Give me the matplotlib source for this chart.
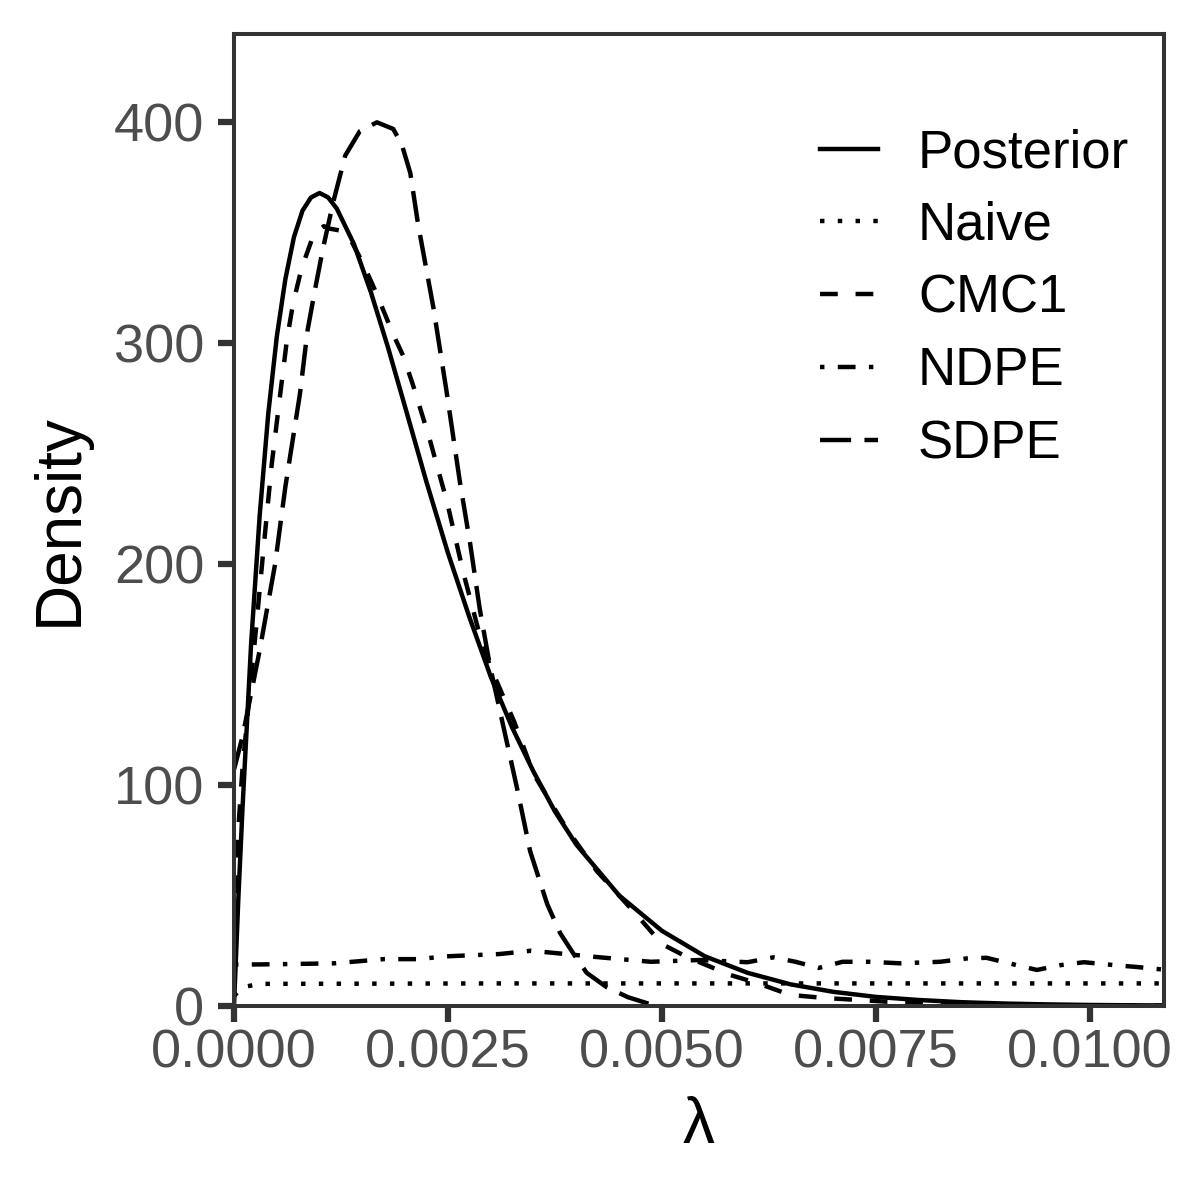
import matplotlib
matplotlib.use("Agg")
import matplotlib.pyplot as plt

plt.rcParams['font.family'] = ['Liberation Sans', 'DejaVu Sans']

# posterior density (solid)
post_x = [0, 0.00005, 0.0001, 0.0002, 0.0003, 0.0004, 0.0005, 0.0006, 0.0007, 0.0008,
          0.0009, 0.001, 0.0011, 0.0012, 0.0014, 0.0016, 0.0018, 0.002, 0.00225, 0.0025,
          0.00275, 0.003, 0.00325, 0.0035, 0.00375, 0.004, 0.0045, 0.005, 0.0055, 0.006,
          0.0065, 0.007, 0.0075, 0.008, 0.0085, 0.009, 0.0095, 0.01, 0.0105, 0.011]
post_y = [0, 48, 90, 164, 222, 268, 303, 329, 348, 360,
          366, 368, 366, 361, 345, 323, 298, 271, 237, 205,
          176, 149, 126, 106, 88, 73, 50, 34, 22.5, 15,
          9.8, 6.4, 4.1, 2.7, 1.7, 1.1, 0.7, 0.45, 0.3, 0.2]

# naive (dotted)
naive_x = [0, 0.0001, 0.0003, 0.003, 0.006, 0.009, 0.0109]
naive_y = [4.5, 8.5, 10, 10.2, 10.2, 10.2, 10.2]

# CMC1 (dashed)
cmc_x = [0, 0.00005, 0.0001, 0.00017, 0.00027, 0.00034, 0.00044, 0.00054, 0.00062, 0.00069,
         0.00079, 0.00091, 0.00098, 0.00105, 0.0011, 0.00124, 0.00136, 0.00151, 0.00167, 0.00186,
         0.00198, 0.0021, 0.00229, 0.00249, 0.00268, 0.00287, 0.00299, 0.00327, 0.0035, 0.00389,
         0.00424, 0.00471, 0.005, 0.0053, 0.0058, 0.0061, 0.0065, 0.0069, 0.0073, 0.0078,
         0.0085, 0.0095, 0.0109]
cmc_y = [35, 80, 108, 136, 176, 205, 245, 277, 302, 318,
         334, 347, 351, 353, 352, 351, 347, 336, 322, 304,
         294, 280, 256, 228, 196, 168, 154, 129, 105, 80,
         61, 41, 28, 22, 14, 10.5, 5, 3.6, 2.7, 1.5,
         0.8, 0.3, 0.1]

# NDPE (dotdash)
ndpe_x = [0, 0.0003, 0.0007, 0.00117, 0.00175, 0.00214, 0.0025, 0.0031, 0.00347, 0.00374,
          0.00428, 0.00487, 0.00544, 0.006, 0.0063, 0.00656, 0.00683, 0.00711, 0.00743, 0.00778,
          0.00825, 0.00856, 0.00879, 0.00911, 0.00938, 0.00966, 0.00993, 0.01028, 0.01056, 0.0109]
ndpe_y = [18.8, 18.8, 19, 19.3, 21.2, 21.2, 22.5, 23.5, 25, 24,
          22, 20, 20.8, 19.8, 22, 20, 17.2, 20, 20, 19.3,
          20, 21.5, 21.8, 18.8, 16.3, 18.5, 19.8, 18.5, 17.6, 16.3]

# SDPE (longdash)
sdpe_x = [0, 0.0001, 0.0003, 0.00048, 0.0006, 0.00077, 0.00086, 0.00095, 0.00104, 0.00116,
          0.0013, 0.00147, 0.00167, 0.00186, 0.00196, 0.00206, 0.00215, 0.00233, 0.00248, 0.00264,
          0.00276, 0.00287, 0.00299, 0.00315, 0.00331, 0.00346, 0.00366, 0.00381, 0.00396, 0.00412,
          0.00435, 0.0046, 0.00483, 0.005]
sdpe_y = [107, 122, 161, 200, 235, 277, 306, 325, 343, 364,
          385, 396, 400, 397, 390, 377, 354, 316, 279, 237,
          209, 180, 154, 126, 98, 70, 46, 33, 24, 15,
          8.6, 4, 1.2, 0.2]

xticks = [0, 0.0025, 0.005, 0.0075, 0.01]
xtick_labels = ['0.0000', '0.0025', '0.0050', '0.0075', '0.0100']
yticks = [0, 100, 200, 300, 400]

lw = 3.2
fig = plt.figure(figsize=(12, 12), dpi=100)
ax = fig.add_axes([0.195, 0.1617, 0.775, 0.81])

ax.plot(post_x, post_y, color='black', lw=lw, ls='-', label='Posterior')
ax.plot(naive_x, naive_y, color='black', lw=lw, ls=(0, (1, 3)), label='Naive')
ax.plot(cmc_x, cmc_y, color='black', lw=lw, ls=(0, (4, 4)), label='CMC1')
ax.plot(ndpe_x, ndpe_y, color='black', lw=lw, ls=(0, (1, 3, 4, 3)), label='NDPE')
ax.plot(sdpe_x, sdpe_y, color='black', lw=lw, ls=(0, (7, 3)), label='SDPE')

ax.set_xlim(0, 0.010865)
ax.set_ylim(0, 440)
ax.set_xticks(xticks, xtick_labels)
ax.set_yticks(yticks)

for s in ax.spines.values():
    s.set_color('#333333')
    s.set_linewidth(2.9)
ax.tick_params(length=11.5, width=4.5, color='#333333', labelsize=39, labelcolor='#4D4D4D')
ax.tick_params(axis='x', pad=5)
ax.tick_params(axis='y', pad=10)

ax.set_xlabel('λ', fontsize=46, va='top')
ax.xaxis.set_label_coords(0.5, -0.093)
ax.set_ylabel('Density', fontsize=46)
ax.yaxis.set_label_coords(-0.155, 0.5)

ax.legend(loc='upper left', bbox_to_anchor=(0.63, 0.903), frameon=False, fontsize=38,
          handlelength=1.1, handletextpad=0.76, labelspacing=0.43,
          borderpad=0, borderaxespad=0)

fig.savefig('out.png', dpi=100)
